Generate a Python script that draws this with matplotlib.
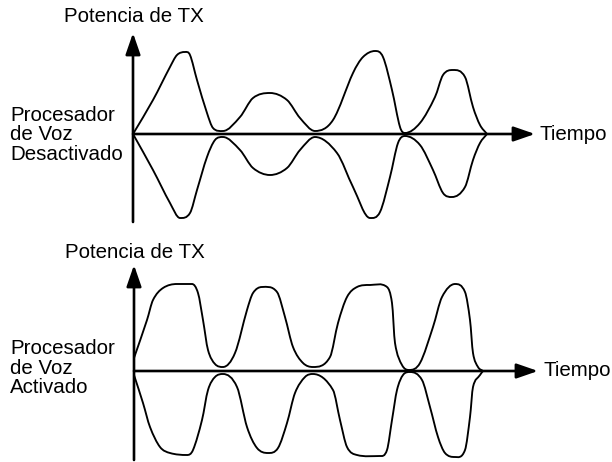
import numpy as np
import matplotlib
matplotlib.use("Agg")
import matplotlib.pyplot as plt
from matplotlib import transforms
from matplotlib.path import Path
from matplotlib.patches import PathPatch, FancyArrowPatch

# ---------- envelope samples (time, |amplitude|) ----------
# voice processor OFF (top panel)
off_up_t = [0, 20, 37, 44, 52, 57, 64, 74, 80, 90, 107, 120, 137, 154, 167, 182, 200, 220, 230,
            242, 250, 259, 267, 272, 287, 302, 310, 320, 332, 340, 347, 354]
off_up_a = [0, 34, 67, 79, 82, 79, 54, 21, 6, 3, 17, 36, 41, 34, 16, 3, 14, 61, 77,
            83, 77, 44, 7, 1, 11, 37, 59, 64, 57, 27, 9, 0]
off_lo_t = [0, 20, 37, 47, 57, 64, 74, 82, 90, 107, 120, 137, 154, 167, 182, 204, 220, 237, 247,
            257, 265, 272, 287, 300, 310, 319, 332, 340, 347, 354]
off_lo_a = [0, 36, 69, 84, 79, 56, 23, 6, 3, 16, 34, 41, 34, 16, 3, 19, 53, 84, 78,
            43, 9, 2, 11, 36, 59, 63, 53, 26, 9, 0]

# voice processor ON (bottom panel)
on_up_t = [0, 13, 19, 29, 43, 58, 64, 69, 74, 81, 89, 101, 113, 119, 128, 143, 151, 159, 169, 179,
           196, 204, 213, 223, 236, 253, 258, 261, 268, 275, 286, 299, 308, 321, 331, 336, 339, 344, 349]
on_up_a = [13, 51, 71, 83, 87, 87, 78, 51, 21, 7, 4, 18, 61, 78, 84, 79, 54, 24, 8, 4,
           14, 48, 74, 84, 86, 84, 68, 28, 6, 1, 8, 44, 74, 87, 79, 51, 18, 4, 0]
on_lo_t = [0, 9, 16, 26, 36, 53, 59, 68, 74, 81, 89, 103, 113, 123, 134, 144, 153, 161, 171, 179,
           199, 206, 213, 223, 246, 253, 258, 263, 269, 276, 288, 296, 304, 311, 321, 331, 336, 339, 346, 349]
on_lo_a = [4, 32, 56, 76, 82, 84, 79, 49, 19, 6, 3, 16, 56, 77, 82, 77, 52, 22, 6, 3,
           19, 49, 76, 84, 85, 79, 49, 19, 4, 1, 9, 36, 66, 82, 86, 79, 46, 16, 4, 0]

y_label = "Potencia de TX"
x_label = "Tiempo"
state_labels = ["Procesador\nde Voz\nDesactivado", "Procesador\nde Voz\nActivado"]

FONT = ["Liberation Sans", "DejaVu Sans"]


def envelope_path(t, a, sign):
    """Cubic Hermite through the samples (centred slopes, flat at extrema) as a Bezier path."""
    t = np.asarray(t, float)
    y = sign * np.asarray(a, float)
    h = np.diff(t)
    n = len(t)
    m = np.zeros(n)
    m[0] = (y[1] - y[0]) / h[0]
    m[-1] = (y[-1] - y[-2]) / h[-1]
    for i in range(1, n - 1):
        if (y[i] - y[i - 1]) * (y[i + 1] - y[i]) <= 0:
            m[i] = 0.0
        else:
            m[i] = (y[i + 1] - y[i - 1]) / (t[i + 1] - t[i - 1])
    verts = [(t[0], y[0])]
    codes = [Path.MOVETO]
    for i in range(n - 1):
        verts += [(t[i] + h[i] / 3, y[i] + m[i] * h[i] / 3),
                  (t[i + 1] - h[i] / 3, y[i + 1] - m[i + 1] * h[i] / 3),
                  (t[i + 1], y[i + 1])]
        codes += [Path.CURVE4] * 3
    return Path(verts, codes)


fig = plt.figure(figsize=(6.12, 4.62), dpi=100)
ax = fig.add_axes([0, 0, 1, 1])
ax.set_xlim(0, 612)
ax.set_ylim(462, 0)
ax.axis("off")

panels = [
    # origin (px), axis extents, curves, label
    dict(x0=133, y0=134, vlo=-88, vhi=101, hlen=402, lab_dy=-1,
         curves=[(off_up_t, off_up_a, 1), (off_lo_t, off_lo_a, -1)], label=state_labels[0]),
    dict(x0=134, y0=371, vlo=-89, vhi=106, hlen=404, lab_dy=3,
         curves=[(on_up_t, on_up_a, 1), (on_lo_t, on_lo_a, -1)], label=state_labels[1]),
]

for p in panels:
    tr = transforms.Affine2D().scale(1, -1).translate(p["x0"], p["y0"]) + ax.transData
    for t, a, s in p["curves"]:
        ax.add_patch(PathPatch(envelope_path(t, a, s), transform=tr, fc="none",
                               ec="black", lw=1.35, capstyle="round", joinstyle="round"))
    style = "-|>,head_length=1.3,head_width=0.45"
    ax.add_patch(FancyArrowPatch((0, p["vlo"]), (0, p["vhi"]), transform=tr, arrowstyle=style,
                                 mutation_scale=10, lw=1.9, color="black", shrinkA=0, shrinkB=0))
    ax.add_patch(FancyArrowPatch((0, 0), (p["hlen"], 0), transform=tr, arrowstyle=style,
                                 mutation_scale=10, lw=1.9, color="black", shrinkA=0, shrinkB=0))
    ax.text(0.5, 118, y_label, transform=tr, ha="center", va="center",
            fontsize=14.8, family=FONT)
    ax.text(p["hlen"] + 5, 0, x_label, transform=tr, ha="left", va="center",
            fontsize=14.8, family=FONT)
    ax.text(10 - p["x0"], p["lab_dy"], p["label"], transform=tr, ha="left", va="center",
            fontsize=14.8, family=FONT, linespacing=1.05)

fig.savefig("out.png", dpi=100)
